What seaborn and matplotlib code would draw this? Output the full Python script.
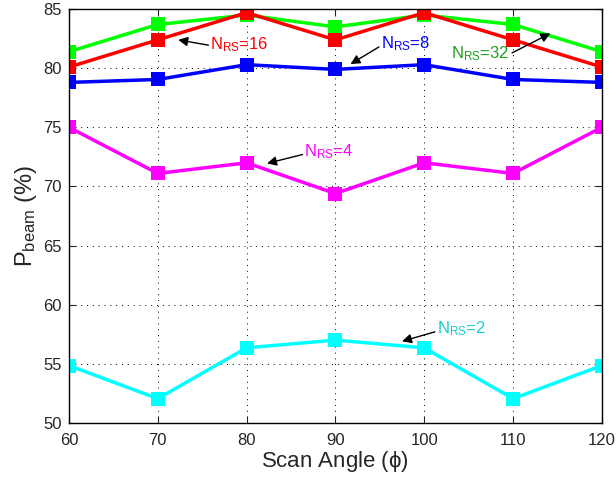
import numpy as np
import pandas as pd
import matplotlib
matplotlib.use("Agg")
import matplotlib.pyplot as plt
import seaborn as sns

# Scan angles (degrees) and beam power per number of RS
angles = [60, 70, 80, 90, 100, 110, 120]
p_rs32 = [81.4, 83.7, 84.5, 83.5, 84.5, 83.7, 81.4]
p_rs16 = [80.1, 82.4, 84.7, 82.4, 84.7, 82.4, 80.1]
p_rs8 = [78.8, 79.05, 80.3, 79.9, 80.3, 79.05, 78.8]
p_rs4 = [75.0, 71.1, 72.0, 69.4, 72.0, 71.1, 75.0]
p_rs2 = [54.85, 52.05, 56.35, 57.0, 56.35, 52.05, 54.85]

series = {"32": p_rs32, "16": p_rs16, "8": p_rs8, "4": p_rs4, "2": p_rs2}
line_colors = {"32": "#00ff00", "16": "#ff0000", "8": "#0000ff",
               "4": "#ff00ff", "2": "#00ffff"}

df = pd.DataFrame(
    [(a, v, k) for k, vals in series.items() for a, v in zip(angles, vals)],
    columns=["angle", "pbeam", "nrs"],
)

sns.set_style("ticks")
plt.rcParams["font.family"] = ["Liberation Sans", "DejaVu Sans"]
plt.rcParams["mathtext.fontset"] = "custom"
plt.rcParams["mathtext.rm"] = "Liberation Sans"
plt.rcParams["mathtext.it"] = "Liberation Sans"

fig, ax = plt.subplots(figsize=(6.16, 4.8), dpi=100)
fig.subplots_adjust(left=0.112, right=0.977, top=0.981, bottom=0.119)

sns.lineplot(data=df, x="angle", y="pbeam", hue="nrs", palette=line_colors,
             hue_order=list(series.keys()), marker="s", markersize=10,
             markeredgewidth=0, linewidth=2.5, legend=False, ax=ax)

ax.set_xlim(60, 120)
ax.set_ylim(50, 85)
ax.set_xticks(np.arange(60, 121, 10))
ax.set_yticks(np.arange(50, 86, 5))
ax.grid(True, color="black", linestyle=(0, (1, 5)), linewidth=0.7)
ax.tick_params(direction="in", top=True, right=True, length=5,
               labelsize=12, width=0.8)
ax.tick_params(axis="x", pad=7)
ax.tick_params(axis="y", pad=5)
for s in ax.spines.values():
    s.set_linewidth(1.0)
    s.set_color("black")

ax.set_xlabel(r"Scan Angle ($\mathregular{\phi}$)", fontsize=16, labelpad=1)
ax.set_ylabel(r"P$_{\mathregular{beam}}$ (%)", fontsize=17, labelpad=3)

# Labels for each curve with pointer arrows
notes = [
    ("16", "#ff0000", (75.9, 82.0), (72.3, 82.4), (75.7, 81.95)),
    ("8", "#0000ff", (95.1, 82.1), (91.7, 80.35), (94.9, 81.8)),
    ("32", "#1e9e1e", (103.0, 81.2), (114.2, 82.95), (109.9, 81.3)),
    ("4", "#ff00ff", (86.5, 72.95), (82.3, 71.95), (86.3, 72.7)),
    ("2", "#19cccc", (101.4, 57.95), (97.5, 56.9), (101.2, 57.7)),
]
arrow = dict(arrowstyle="-|>", color="black", lw=1.0, mutation_scale=14,
             shrinkA=0, shrinkB=0)
for n, col, txt_pos, tip, tail in notes:
    ax.text(txt_pos[0], txt_pos[1], r"N$_{\mathregular{RS}}$=" + n,
            color=col, fontsize=12, ha="left", va="center")
    ax.annotate("", xy=tip, xytext=tail, arrowprops=arrow)

fig.savefig("out.png", dpi=100)
